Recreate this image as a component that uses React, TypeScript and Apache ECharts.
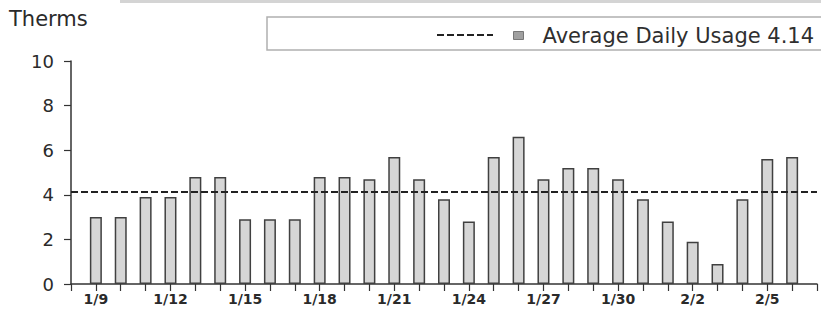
import React, { useEffect, useRef } from "react";
import * as echarts from "echarts";

// Day categories (axis runs from 1/8 to 2/7; bars on 1/9 .. 2/6)
const days = [
  "1/8", "1/9", "1/10", "1/11", "1/12", "1/13", "1/14", "1/15", "1/16", "1/17",
  "1/18", "1/19", "1/20", "1/21", "1/22", "1/23", "1/24", "1/25", "1/26", "1/27",
  "1/28", "1/29", "1/30", "1/31", "2/1", "2/2", "2/3", "2/4", "2/5", "2/6", "2/7",
];

// Daily usage in therms
const usage: (number | null)[] = [
  null, 3.0, 3.0, 3.9, 3.9, 4.8, 4.8, 2.9, 2.9, 2.9,
  4.8, 4.8, 4.7, 5.7, 4.7, 3.8, 2.8, 5.7, 6.6, 4.7,
  5.2, 5.2, 4.7, 3.8, 2.8, 1.9, 0.9, 3.8, 5.6, 5.7, null,
];

const yMin = 0;
const yMax = 10;
const yStep = 2;

const FONT = "DejaVu Sans";

export default function App() {
  const ref = useRef<HTMLDivElement>(null);

  useEffect(() => {
    if (!ref.current) return;
    const chart = echarts.init(ref.current, undefined, { renderer: "svg" });
    const vals = usage.filter((v): v is number => v !== null);
    const avg = vals.reduce((a, b) => a + b, 0) / vals.length;
    const barName = `Average Daily Usage ${avg.toFixed(2)}`;

    chart.setOption({
      animation: false,
      backgroundColor: "#ffffff",
      title: {
        text: "Therms",
        left: 9,
        top: 8,
        padding: 0,
        textStyle: { fontFamily: FONT, fontSize: 21, fontWeight: "normal", color: "#2a2a2a" },
      },
      legend: {
        left: 513,
        top: 25,
        padding: 0,
        itemWidth: 10,
        itemHeight: 8,
        data: [
          {
            name: barName,
            icon: "rect",
            itemStyle: { color: "#a0a0a0", borderColor: "#777", borderWidth: 1 },
          },
        ],
        textStyle: { fontFamily: FONT, fontSize: 21, color: "#2f2f2f", padding: [0, 0, 0, 14] },
      },
      graphic: [
        {
          type: "rect",
          z: -1,
          shape: { x: 267, y: 17, width: 620, height: 33 },
          style: { fill: "none", stroke: "#b0b0b0", lineWidth: 1.5 },
        },
        {
          type: "line",
          shape: { x1: 437, y1: 35, x2: 493, y2: 35 },
          style: { stroke: "#222", lineWidth: 2, lineDash: [7, 3] },
        },
        {
          type: "line",
          shape: { x1: 120, y1: 1.5, x2: 821, y2: 1.5 },
          style: { stroke: "#d4d4d4", lineWidth: 3 },
        },
      ],
      grid: { left: 71, right: 4, top: 61, bottom: 29, containLabel: false },
      xAxis: {
        type: "category",
        data: days,
        boundaryGap: false,
        axisLine: { lineStyle: { color: "#333", width: 1.5 } },
        axisTick: { show: true, interval: 0, length: 7, lineStyle: { color: "#333", width: 1.2 } },
        axisLabel: {
          interval: (i: number) => i % 3 === 1,
          margin: 8,
          fontFamily: FONT,
          fontSize: 14,
          fontWeight: "bold",
          color: "#2a2a2a",
        },
        splitLine: { show: false },
      },
      yAxis: {
        type: "value",
        min: yMin,
        max: yMax,
        interval: yStep,
        axisLine: { show: true, lineStyle: { color: "#333", width: 1.5 } },
        axisTick: { show: true, length: 7, lineStyle: { color: "#333", width: 1.2 } },
        axisLabel: { margin: 17, fontFamily: FONT, fontSize: 18, color: "#2a2a2a" },
        splitLine: { show: false },
      },
      series: [
        {
          name: barName,
          type: "bar",
          data: usage,
          barWidth: 12,
          itemStyle: { color: "#d6d6d6", borderColor: "#404040", borderWidth: 1.5 },
          markLine: {
            silent: true,
            symbol: "none",
            label: { show: false },
            lineStyle: { color: "#222", width: 2, type: [7, 3] },
            data: [{ yAxis: avg }],
          },
        },
      ],
    });

    return () => chart.dispose();
  }, []);

  return (
    <div
      ref={ref}
      style={{ position: "absolute", left: 0, top: 0, width: 821, height: 313 }}
    />
  );
}
